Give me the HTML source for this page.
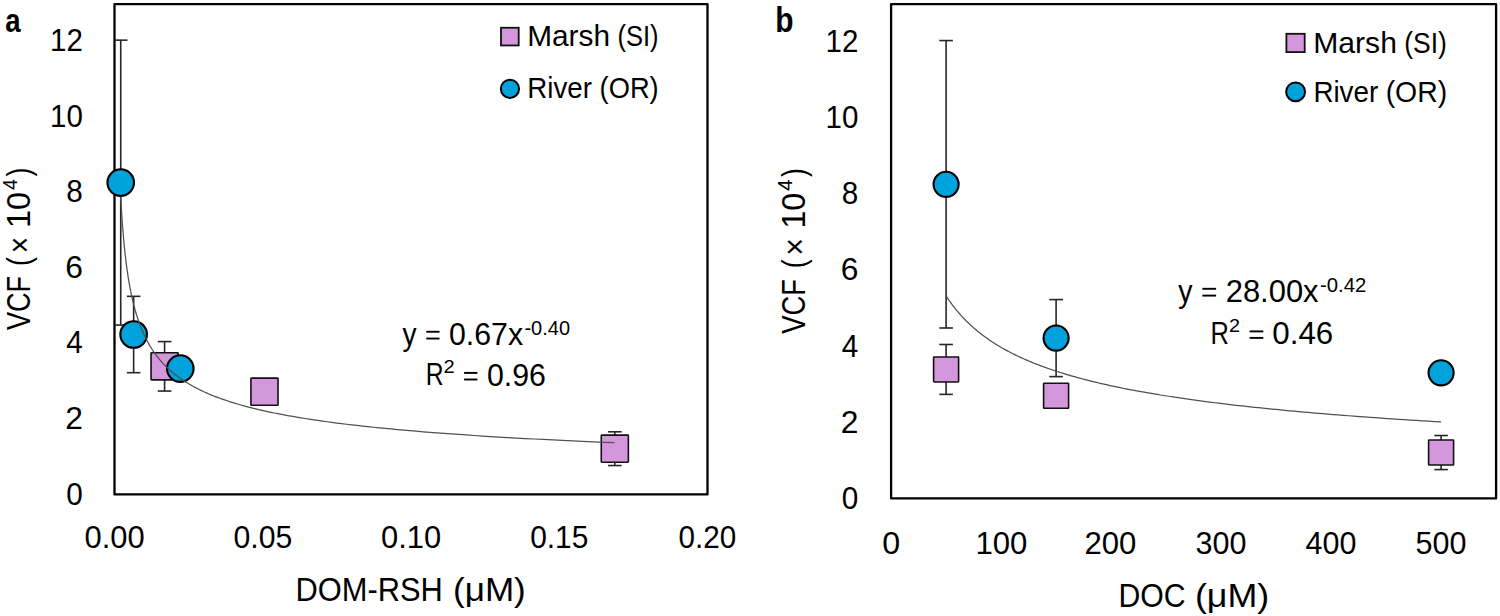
<!DOCTYPE html>
<html><head><meta charset="utf-8"><title>VCF vs DOM-RSH and DOC</title>
<style>html,body{margin:0;padding:0;background:#fff;width:1500px;height:616px;overflow:hidden}</style>
</head><body>
<svg width="1500" height="616" viewBox="0 0 1500 616" style="display:block;font-family:'Liberation Sans', sans-serif">
<rect width="1500" height="616" fill="#fff"/>
<rect x="114.5" y="4.1" width="593.0" height="490.3" fill="none" stroke="#000" stroke-width="2.3" stroke-linejoin="round"/><rect x="891.1" y="4.1" width="605.0" height="494.3" fill="none" stroke="#000" stroke-width="2.3" stroke-linejoin="round"/>
<g stroke="#262626" stroke-width="1.6" fill="none"><line x1="164.59" y1="341.59" x2="164.59" y2="391.04"/><line x1="157.79" y1="341.59" x2="171.39" y2="341.59"/><line x1="157.79" y1="391.04" x2="171.39" y2="391.04"/><line x1="264.48" y1="389.80" x2="264.48" y2="393.57"/><line x1="257.68" y1="389.80" x2="271.28" y2="389.80"/><line x1="257.68" y1="393.57" x2="271.28" y2="393.57"/><line x1="614.82" y1="431.79" x2="614.82" y2="465.56"/><line x1="608.02" y1="431.79" x2="621.62" y2="431.79"/><line x1="608.02" y1="465.56" x2="621.62" y2="465.56"/></g><g stroke="#262626" stroke-width="1.6" fill="none"><line x1="120.72" y1="40.15" x2="120.72" y2="325.08"/><line x1="114.50" y1="40.15" x2="127.52" y2="40.15"/><line x1="114.50" y1="325.08" x2="127.52" y2="325.08"/><line x1="133.65" y1="296.33" x2="133.65" y2="372.69"/><line x1="126.85" y1="296.33" x2="140.45" y2="296.33"/><line x1="126.85" y1="372.69" x2="140.45" y2="372.69"/><line x1="180.30" y1="366.69" x2="180.30" y2="370.46"/><line x1="173.50" y1="366.69" x2="187.10" y2="366.69"/><line x1="173.50" y1="370.46" x2="187.10" y2="370.46"/></g><rect x="151.04" y="352.77" width="27.1" height="27.1" rx="0.6" fill="#d597dc" stroke="#111" stroke-width="1.6" stroke-linejoin="round"/><rect x="250.93" y="378.13" width="27.1" height="27.1" rx="0.6" fill="#d597dc" stroke="#111" stroke-width="1.6" stroke-linejoin="round"/><rect x="601.27" y="435.12" width="27.1" height="27.1" rx="0.6" fill="#d597dc" stroke="#111" stroke-width="1.6" stroke-linejoin="round"/><circle cx="120.72" cy="182.62" r="13.3" fill="#00a2dc" stroke="#000" stroke-width="2.1"/><circle cx="133.65" cy="334.51" r="13.3" fill="#00a2dc" stroke="#000" stroke-width="2.1"/><circle cx="180.30" cy="368.58" r="13.3" fill="#00a2dc" stroke="#000" stroke-width="2.1"/><polyline points="120.72,196.75 120.86,199.35 121.00,201.92 121.15,204.48 121.30,207.01 121.45,209.52 121.60,212.00 121.76,214.47 121.92,216.91 122.08,219.33 122.25,221.73 122.42,224.11 122.60,226.47 122.78,228.81 122.96,231.13 123.15,233.42 123.34,235.70 123.54,237.96 123.74,240.20 123.94,242.42 124.15,244.62 124.37,246.80 124.58,248.96 124.81,251.10 125.04,253.22 125.27,255.33 125.51,257.41 125.75,259.48 126.00,261.53 126.26,263.56 126.52,265.58 126.78,267.57 127.06,269.55 127.34,271.52 127.62,273.46 127.91,275.39 128.21,277.30 128.51,279.19 128.82,281.07 129.14,282.93 129.46,284.78 129.80,286.61 130.14,288.42 130.48,290.22 130.84,292.00 131.20,293.77 131.57,295.52 131.95,297.25 132.33,298.97 132.73,300.68 133.13,302.37 133.55,304.04 133.97,305.70 134.40,307.35 134.84,308.98 135.29,310.60 135.76,312.20 136.23,313.79 136.71,315.37 137.20,316.93 137.70,318.48 138.22,320.01 138.74,321.53 139.28,323.04 139.83,324.54 140.39,326.02 140.97,327.49 141.55,328.94 142.15,330.39 142.77,331.82 143.39,333.24 144.03,334.64 144.69,336.04 145.36,337.42 146.04,338.79 146.74,340.14 147.46,341.49 148.19,342.82 148.94,344.15 149.70,345.46 150.48,346.76 151.28,348.04 152.09,349.32 152.93,350.58 153.78,351.84 154.65,353.08 155.54,354.32 156.45,355.54 157.38,356.75 158.33,357.95 159.30,359.14 160.30,360.32 161.31,361.49 162.35,362.65 163.41,363.80 164.49,364.93 165.60,366.06 166.74,367.18 167.89,368.29 169.08,369.39 170.29,370.48 171.53,371.56 172.79,372.63 174.08,373.70 175.40,374.75 176.75,375.79 178.13,376.83 179.55,377.85 180.99,378.87 182.46,379.87 183.97,380.87 185.51,381.86 187.08,382.84 188.69,383.82 190.34,384.78 192.02,385.74 193.74,386.68 195.50,387.62 197.29,388.55 199.13,389.48 201.00,390.39 202.92,391.30 204.88,392.20 206.89,393.09 208.93,393.97 211.03,394.85 213.17,395.71 215.36,396.57 217.59,397.43 219.88,398.27 222.22,399.11 224.60,399.94 227.05,400.76 229.54,401.58 232.09,402.39 234.70,403.19 237.36,403.98 240.09,404.77 242.87,405.55 245.72,406.33 248.63,407.10 251.60,407.86 254.64,408.61 257.75,409.36 260.93,410.10 264.17,410.83 267.49,411.56 270.89,412.28 274.35,413.00 277.90,413.71 281.52,414.41 285.22,415.11 289.01,415.80 292.88,416.48 296.83,417.16 300.88,417.83 305.01,418.50 309.23,419.16 313.55,419.82 317.96,420.47 322.48,421.11 327.09,421.75 331.80,422.38 336.62,423.01 341.55,423.63 346.58,424.25 351.73,424.86 356.99,425.46 362.36,426.07 367.86,426.66 373.48,427.25 379.22,427.84 385.09,428.41 391.09,428.99 397.22,429.56 403.49,430.12 409.90,430.68 416.45,431.24 423.14,431.79 429.99,432.33 436.98,432.87 444.13,433.41 451.44,433.94 458.91,434.47 466.55,434.99 474.35,435.50 482.33,436.02 490.49,436.53 498.83,437.03 507.35,437.53 516.06,438.02 524.96,438.51 534.06,439.00 543.37,439.48 552.88,439.96 562.60,440.43 572.53,440.90 582.69,441.37 593.07,441.83 603.68,442.29 614.53,442.74" fill="none" stroke="#505050" stroke-width="1.25"/>
<g stroke="#262626" stroke-width="1.6" fill="none"><line x1="946.10" y1="344.50" x2="946.10" y2="394.38"/><line x1="939.30" y1="344.50" x2="952.90" y2="344.50"/><line x1="939.30" y1="394.38" x2="952.90" y2="394.38"/><line x1="1056.10" y1="393.84" x2="1056.10" y2="397.65"/><line x1="1049.30" y1="393.84" x2="1062.90" y2="393.84"/><line x1="1049.30" y1="397.65" x2="1062.90" y2="397.65"/><line x1="1441.10" y1="435.51" x2="1441.10" y2="469.58"/><line x1="1434.30" y1="435.51" x2="1447.90" y2="435.51"/><line x1="1434.30" y1="469.58" x2="1447.90" y2="469.58"/></g><g stroke="#262626" stroke-width="1.6" fill="none"><line x1="946.10" y1="40.56" x2="946.10" y2="327.99"/><line x1="939.30" y1="40.56" x2="952.90" y2="40.56"/><line x1="939.30" y1="327.99" x2="952.90" y2="327.99"/><line x1="1056.10" y1="299.59" x2="1056.10" y2="376.62"/><line x1="1049.30" y1="299.59" x2="1062.90" y2="299.59"/><line x1="1049.30" y1="376.62" x2="1062.90" y2="376.62"/><line x1="1441.10" y1="370.92" x2="1441.10" y2="374.72"/><line x1="1434.30" y1="370.92" x2="1447.90" y2="370.92"/><line x1="1434.30" y1="374.72" x2="1447.90" y2="374.72"/></g><rect x="933.60" y="356.94" width="25.0" height="25.0" rx="0.6" fill="#d597dc" stroke="#111" stroke-width="1.6" stroke-linejoin="round"/><rect x="1043.60" y="383.25" width="25.0" height="25.0" rx="0.6" fill="#d597dc" stroke="#111" stroke-width="1.6" stroke-linejoin="round"/><rect x="1428.60" y="440.05" width="25.0" height="25.0" rx="0.6" fill="#d597dc" stroke="#111" stroke-width="1.6" stroke-linejoin="round"/><circle cx="946.10" cy="184.28" r="12.55" fill="#00a2dc" stroke="#000" stroke-width="2.1"/><circle cx="1056.10" cy="338.11" r="12.55" fill="#00a2dc" stroke="#000" stroke-width="2.1"/><circle cx="1441.10" cy="372.82" r="12.55" fill="#00a2dc" stroke="#000" stroke-width="2.1"/><polyline points="946.10,295.88 946.74,296.86 947.38,297.84 948.03,298.82 948.69,299.79 949.36,300.75 950.03,301.71 950.72,302.67 951.41,303.62 952.10,304.57 952.81,305.51 953.53,306.44 954.25,307.38 954.98,308.31 955.72,309.23 956.47,310.15 957.22,311.06 957.99,311.97 958.76,312.88 959.55,313.78 960.34,314.68 961.14,315.57 961.95,316.46 962.77,317.34 963.60,318.22 964.44,319.10 965.29,319.97 966.15,320.84 967.02,321.70 967.90,322.56 968.79,323.41 969.69,324.26 970.60,325.11 971.52,325.95 972.45,326.79 973.39,327.62 974.35,328.45 975.31,329.28 976.28,330.10 977.27,330.92 978.27,331.73 979.28,332.54 980.30,333.35 981.33,334.15 982.38,334.95 983.43,335.74 984.50,336.53 985.58,337.32 986.68,338.10 987.79,338.88 988.91,339.66 990.04,340.43 991.18,341.20 992.34,341.96 993.51,342.72 994.70,343.48 995.90,344.23 997.11,344.98 998.34,345.72 999.58,346.47 1000.84,347.20 1002.11,347.94 1003.40,348.67 1004.70,349.40 1006.01,350.12 1007.34,350.84 1008.69,351.56 1010.05,352.27 1011.43,352.98 1012.82,353.69 1014.23,354.39 1015.66,355.09 1017.10,355.79 1018.56,356.48 1020.03,357.17 1021.53,357.86 1023.04,358.54 1024.56,359.22 1026.11,359.90 1027.67,360.57 1029.25,361.24 1030.85,361.91 1032.47,362.57 1034.11,363.23 1035.76,363.89 1037.44,364.54 1039.13,365.19 1040.85,365.84 1042.58,366.48 1044.34,367.12 1046.11,367.76 1047.91,368.39 1049.72,369.03 1051.56,369.66 1053.42,370.28 1055.30,370.90 1057.20,371.52 1059.12,372.14 1061.07,372.75 1063.03,373.36 1065.03,373.97 1067.04,374.58 1069.08,375.18 1071.14,375.78 1073.22,376.37 1075.33,376.97 1077.46,377.56 1079.62,378.14 1081.81,378.73 1084.01,379.31 1086.25,379.89 1088.51,380.46 1090.79,381.04 1093.11,381.61 1095.44,382.17 1097.81,382.74 1100.20,383.30 1102.63,383.86 1105.07,384.42 1107.55,384.97 1110.06,385.52 1112.59,386.07 1115.16,386.62 1117.75,387.16 1120.38,387.70 1123.03,388.24 1125.72,388.77 1128.44,389.31 1131.18,389.84 1133.96,390.36 1136.78,390.89 1139.62,391.41 1142.50,391.93 1145.41,392.45 1148.35,392.96 1151.33,393.48 1154.35,393.99 1157.39,394.49 1160.48,395.00 1163.60,395.50 1166.75,396.00 1169.94,396.50 1173.17,396.99 1176.44,397.49 1179.74,397.98 1183.09,398.46 1186.47,398.95 1189.89,399.43 1193.35,399.91 1196.85,400.39 1200.39,400.87 1203.97,401.34 1207.59,401.81 1211.26,402.28 1214.96,402.75 1218.71,403.22 1222.51,403.68 1226.35,404.14 1230.23,404.60 1234.15,405.05 1238.13,405.51 1242.14,405.96 1246.21,406.41 1250.32,406.85 1254.48,407.30 1258.69,407.74 1262.95,408.18 1267.25,408.62 1271.61,409.06 1276.01,409.49 1280.47,409.92 1284.98,410.35 1289.54,410.78 1294.15,411.21 1298.82,411.63 1303.54,412.05 1308.32,412.47 1313.15,412.89 1318.04,413.30 1322.98,413.72 1327.98,414.13 1333.04,414.54 1338.16,414.95 1343.33,415.35 1348.57,415.75 1353.87,416.16 1359.23,416.56 1364.65,416.95 1370.13,417.35 1375.68,417.74 1381.29,418.14 1386.96,418.53 1392.71,418.91 1398.51,419.30 1404.39,419.68 1410.33,420.07 1416.35,420.45 1422.43,420.83 1428.58,421.20 1434.80,421.58 1441.10,421.95" fill="none" stroke="#505050" stroke-width="1.25"/>
<rect x="426.3" y="330.80" width="13.2" height="1.9" fill="#000"/><rect x="426.3" y="337.60" width="13.2" height="1.9" fill="#000"/><rect x="464.1" y="371.95" width="13.3" height="1.9" fill="#000"/><rect x="464.1" y="378.55" width="13.3" height="1.9" fill="#000"/><rect x="1202.4" y="287.85" width="13.7" height="1.9" fill="#000"/><rect x="1202.4" y="294.65" width="13.7" height="1.9" fill="#000"/><rect x="1249.6" y="330.45" width="13.7" height="1.9" fill="#000"/><rect x="1249.6" y="336.95" width="13.7" height="1.9" fill="#000"/><rect x="501.00" y="27.75" width="17.7" height="17.7" fill="#d597dc" stroke="#111" stroke-width="1.8"/><circle cx="509.95" cy="88.8" r="9.1" fill="#00a2dc" stroke="#000" stroke-width="2"/><rect x="1286.40" y="33.80" width="18.3" height="18.3" fill="#d597dc" stroke="#111" stroke-width="1.8"/><circle cx="1295.6" cy="91.85" r="9.45" fill="#00a2dc" stroke="#000" stroke-width="2"/>
<g fill="#000">
<text transform="translate(66.33,504.50) scale(0.9667,1)" font-size="30.7">0</text>
<text transform="translate(841.73,508.70) scale(0.9667,1)" font-size="30.7">0</text>
<text transform="translate(65.23,428.98) scale(1.0357,1)" font-size="30.7">2</text>
<text transform="translate(840.63,432.60) scale(1.0357,1)" font-size="30.7">2</text>
<text transform="translate(66.33,353.46) scale(0.9667,1)" font-size="30.7">4</text>
<text transform="translate(841.73,356.50) scale(0.9667,1)" font-size="30.7">4</text>
<text transform="translate(65.23,277.94) scale(1.0357,1)" font-size="30.7">6</text>
<text transform="translate(840.63,280.40) scale(1.0357,1)" font-size="30.7">6</text>
<text transform="translate(66.33,202.42) scale(0.9667,1)" font-size="30.7">8</text>
<text transform="translate(841.73,204.30) scale(0.9667,1)" font-size="30.7">8</text>
<text transform="translate(50.08,126.90) scale(0.9613,1)" font-size="30.7">10</text>
<text transform="translate(825.48,128.20) scale(0.9613,1)" font-size="30.7">10</text>
<text transform="translate(50.08,51.38) scale(0.9613,1)" font-size="30.7">12</text>
<text transform="translate(825.48,52.10) scale(0.9613,1)" font-size="30.7">12</text>
<text transform="translate(84.60,548.30) scale(0.9966,1)" font-size="31">0.00</text>
<text transform="translate(233.48,548.30) scale(0.9741,1)" font-size="31">0.05</text>
<text transform="translate(381.00,548.30) scale(0.9966,1)" font-size="31">0.10</text>
<text transform="translate(530.13,548.30) scale(0.9655,1)" font-size="31">0.15</text>
<text transform="translate(678.59,548.30) scale(0.9569,1)" font-size="31">0.20</text>
<text transform="translate(882.26,553.50) scale(1.0400,1)" font-size="31">0</text>
<text transform="translate(975.39,553.50) scale(1.0041,1)" font-size="31">100</text>
<text transform="translate(1084.49,553.50) scale(1.0041,1)" font-size="31">200</text>
<text transform="translate(1195.52,553.50) scale(0.9840,1)" font-size="31">300</text>
<text transform="translate(1305.52,553.50) scale(0.9840,1)" font-size="31">400</text>
<text transform="translate(1415.52,553.50) scale(0.9840,1)" font-size="31">500</text>
<text transform="translate(295.55,601.00) scale(0.9493,1)" font-size="32.5">DOM-RSH</text>
<text transform="translate(453.04,601.00) scale(1.0794,1)" font-size="32.5">(μM)</text>
<text transform="translate(1118.41,607.00) scale(0.9294,1)" font-size="32.5">DOC</text>
<text transform="translate(1194.89,607.00) scale(1.1032,1)" font-size="32.5">(μM)</text>
<text transform="translate(30.20,330.00) rotate(-90) scale(0.8313,1)" font-size="32.5">VCF</text>
<text transform="translate(30.20,265.93) rotate(-90) scale(0.8125,1)" font-size="32.5">(</text>
<text transform="translate(31.30,253.19) rotate(-90) scale(0.8286,1)" font-size="34">×</text>
<text transform="translate(30.20,227.89) rotate(-90) scale(0.9939,1)" font-size="32.5">10</text>
<text transform="translate(16.90,190.10) rotate(-90) scale(0.9818,1)" font-size="20">4</text>
<text transform="translate(30.20,176.42) rotate(-90) scale(0.8250,1)" font-size="32.5">)</text>
<text transform="translate(805.20,333.70) rotate(-90) scale(0.8422,1)" font-size="32.5">VCF</text>
<text transform="translate(805.20,268.23) rotate(-90) scale(0.8125,1)" font-size="32.5">(</text>
<text transform="translate(806.30,255.54) rotate(-90) scale(0.8786,1)" font-size="34">×</text>
<text transform="translate(805.20,228.58) rotate(-90) scale(0.9909,1)" font-size="32.5">10</text>
<text transform="translate(792.20,190.90) rotate(-90) scale(1.0545,1)" font-size="20">4</text>
<text transform="translate(805.20,177.11) rotate(-90) scale(0.8125,1)" font-size="32.5">)</text>
<text transform="translate(5.29,32.20) scale(0.8111,1)" font-size="34" font-weight="700">a</text>
<text transform="translate(775.29,31.90) scale(0.8556,1)" font-size="35" font-weight="700">b</text>
<text transform="translate(527.14,45.70) scale(1.0286,1)" font-size="29">Marsh</text>
<text transform="translate(617.44,45.70) scale(0.8791,1)" font-size="29">(SI)</text>
<text transform="translate(527.29,97.90) scale(0.9569,1)" font-size="29">River</text>
<text transform="translate(599.62,97.90) scale(0.9407,1)" font-size="29">(OR)</text>
<text transform="translate(1313.22,52.50) scale(1.0390,1)" font-size="29">Marsh</text>
<text transform="translate(1404.27,52.50) scale(0.9140,1)" font-size="29">(SI)</text>
<text transform="translate(1313.38,101.50) scale(0.9585,1)" font-size="29">River</text>
<text transform="translate(1385.64,101.50) scale(0.9797,1)" font-size="29">(OR)</text>
<text transform="translate(402.60,344.60) scale(0.9200,1)" font-size="30.5">y</text>
<text transform="translate(449.01,344.60) scale(0.9932,1)" font-size="30.5">0.67x</text>
<text transform="translate(524.45,334.80) scale(0.9522,1)" font-size="21">-0.40</text>
<text transform="translate(425.86,385.40) scale(0.8118,1)" font-size="30.5">R</text>
<text transform="translate(443.51,373.40) scale(1.0875,1)" font-size="18.5">2</text>
<text transform="translate(486.91,385.60) scale(0.9947,1)" font-size="30.5">0.96</text>
<text transform="translate(1178.20,301.60) scale(0.9333,1)" font-size="30.5">y</text>
<text transform="translate(1225.67,301.60) scale(1.0146,1)" font-size="30.5">28.00x</text>
<text transform="translate(1320.03,291.80) scale(0.9674,1)" font-size="21">-0.42</text>
<text transform="translate(1210.39,343.60) scale(0.8353,1)" font-size="30.5">R</text>
<text transform="translate(1229.12,331.80) scale(1.0750,1)" font-size="18.5">2</text>
<text transform="translate(1272.27,343.60) scale(1.0281,1)" font-size="30.5">0.46</text>
</g>
</svg>
</body></html>
